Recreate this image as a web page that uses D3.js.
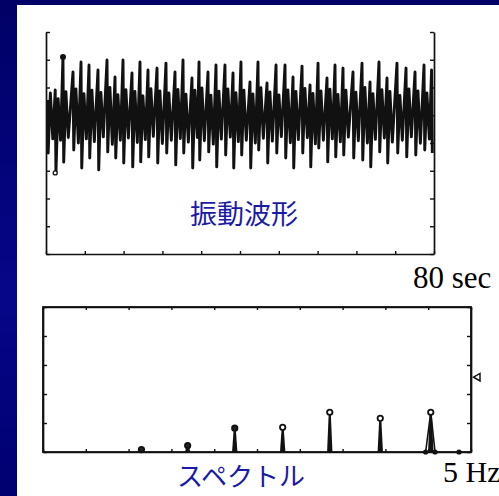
<!DOCTYPE html>
<html>
<head>
<meta charset="utf-8">
<script src="https://cdn.jsdelivr.net/npm/d3@7"></script>
<style>
  html, body { margin: 0; padding: 0; background: #000078; }
  svg { display: block; }
</style>
</head>
<body>
<div id="chart"></div>
<script>
// vibration waveform, one entry per cycle (seconds / amplitude units)
const waveTime = [0.3, 1.9, 3.5, 5.57, 7.22, 8.87, 10.72, 12.58, 14.23, 15.88, 17.73, 19.38, 21.03, 22.89, 24.74, 26.6,
  28.25, 30.1, 31.55, 33.4, 35.05, 36.9, 38.56, 40.2, 42.06, 43.71, 45.57, 47.43, 49.28, 50.93, 52.79,
  54.44, 56.09, 57.94, 59.59, 61.24, 63.3, 65.16, 66.81, 68.66, 70.31, 72.37, 74.23, 76.09, 77.94, 79.5];
const waveHigh = [0.55, 0.91, 2.10, 1.56, 1.92, 1.81, 1.63, 1.99, 1.38, 1.99, 1.52, 1.92, 1.63, 1.70, 1.88, 1.56,
  1.99, 1.34, 1.92, 1.56, 1.81, 1.81, 1.52, 1.92, 1.20, 1.92, 1.16, 1.81, 1.81, 1.38, 1.77,
  1.09, 1.88, 1.34, 1.81, 1.70, 1.56, 1.88, 1.20, 1.92, 1.34, 1.88, 1.70, 1.56, 1.81, 1.63];
const waveLow = [-1.36, -2.08, -1.69, -1.25, -1.90, -1.54, -1.97, -1.32, -1.54, -1.72, -1.86, -1.68, -1.50, -1.72, -1.36, -1.79,
  -1.36, -1.90, -1.61, -1.32, -1.86, -1.43, -1.90, -1.43, -1.90, -1.25, -1.72, -1.36, -1.54, -1.90, -1.36,
  -1.86, -1.18, -1.68, -1.50, -1.43, -1.54, -1.61, -1.86, -1.32, -1.72, -1.36, -1.50, -1.43, -1.25, -1.36];
// the dense middle band between the spikes
const bandHigh = [0.8, 0.6, 0.85, 0.95, 0.78, 0.9, 0.82, 1.0, 0.74, 0.92, 0.86, 0.7, 0.96, 0.88, 0.8, 0.93,
  0.76, 0.9, 0.98, 0.72, 0.87, 0.95, 0.81, 0.9, 0.77, 0.99, 0.84, 0.73, 0.91, 0.86, 0.97,
  0.79, 0.88, 0.94, 0.75, 0.9, 0.83, 1.0, 0.78, 0.92, 0.86, 0.71, 0.95, 0.88, 0.8, 0.9];
const bandLow = [-0.85, -0.9, -0.8, -1.0, -0.85, -0.95, -0.78, -1.05, -0.9, -0.82, -0.98, -0.88, -0.76, -1.02, -0.9, -0.84,
  -0.97, -0.8, -0.92, -1.04, -0.86, -0.79, -0.95, -0.9, -1.0, -0.83, -0.93, -0.77, -0.99, -0.88, -0.81,
  -1.03, -0.9, -0.85, -0.96, -0.79, -0.92, -1.0, -0.87, -0.82, -0.97, -0.9, -0.78, -1.01, -0.86, -0.92];

// spectrum
const specFreq = [1.15, 1.69, 2.24, 2.80, 3.35, 3.94, 4.53];
const specAmp = [0.05, 0.22, 0.82, 0.85, 1.37, 1.16, 1.37];
const baseFreq = [4.47, 4.58, 4.86];
const markFreq = 5.08, markAmp = 2.58;

const labelColor = "#1a1aa6";

const svg = d3.select("#chart").append("svg")
  .attr("width", 499)
  .attr("height", 496);

// slide background
const grad = svg.append("defs").append("linearGradient")
  .attr("id", "bg").attr("x1", 0).attr("y1", 0).attr("x2", 0).attr("y2", 1);
grad.append("stop").attr("offset", "0%").attr("stop-color", "#000066");
grad.append("stop").attr("offset", "60%").attr("stop-color", "#060689");
grad.append("stop").attr("offset", "100%").attr("stop-color", "#000070");
svg.append("rect").attr("width", 499).attr("height", 496).attr("fill", "url(#bg)");
svg.append("rect").attr("x", 17).attr("y", 5).attr("width", 482).attr("height", 491).attr("fill", "#fff");

// ---------- waveform ----------
const x = d3.scaleLinear().domain([0, 80]).range([46, 434]);
const y = d3.scaleLinear().domain([-5, 3]).range([254, 32]);

const pts = [];
waveTime.forEach((t, i) => {
  pts.push([t, waveHigh[i]]);
  pts.push([t + 0.15, waveLow[i]]);
  pts.push([t + 0.6, bandHigh[i]]);
  pts.push([t + 1.1, bandLow[i]]);
});

const line = d3.line().x(d => x(d[0])).y(d => y(d[1]));

svg.append("path")
  .datum(pts.filter(d => d[0] <= 80))
  .attr("fill", "none")
  .attr("stroke", "#111")
  .attr("stroke-width", 2.9)
  .attr("stroke-linejoin", "round")
  .attr("d", line);

// max / min markers
const iMax = d3.maxIndex(waveHigh);
const iMin = d3.minIndex(waveLow);
svg.append("circle").attr("cx", x(waveTime[iMax])).attr("cy", y(waveHigh[iMax]))
  .attr("r", 3).attr("fill", "#111");
svg.append("circle").attr("cx", x(waveTime[iMin])).attr("cy", y(waveLow[iMin]))
  .attr("r", 2).attr("fill", "#fff").attr("stroke", "#111").attr("stroke-width", 1.3);

function styleAxis(g) {
  g.selectAll(".domain").attr("stroke", "#111").attr("stroke-width", 1.7);
  g.selectAll(".tick line").attr("stroke", "#111").attr("stroke-width", 1.4);
}

svg.append("g")
  .attr("transform", "translate(46,0)")
  .call(d3.axisLeft(y).ticks(8).tickSize(-4).tickSizeOuter(0).tickFormat(""))
  .call(styleAxis);
svg.append("g")
  .attr("transform", "translate(434,0)")
  .call(d3.axisRight(y).ticks(8).tickSize(-4).tickSizeOuter(0).tickFormat(""))
  .call(styleAxis);
svg.append("g")
  .attr("transform", "translate(0,254)")
  .call(d3.axisBottom(x).tickValues(d3.range(0, 81, 8)).tickSize(-3).tickSizeOuter(0).tickFormat(""))
  .call(styleAxis);

svg.append("text")
  .attr("x", 244).attr("y", 224)
  .attr("text-anchor", "middle")
  .attr("fill", labelColor)
  .style("font-family", "'Noto Sans CJK JP', sans-serif")
  .style("font-size", "27px")
  .text("振動波形");

svg.append("text")
  .attr("x", 413).attr("y", 288)
  .attr("fill", "#000")
  .style("font-family", "'Liberation Serif', 'Times New Roman', serif")
  .style("font-size", "31px")
  .text("80 sec");

// ---------- spectrum ----------
const fx = d3.scaleLinear().domain([0, 5]).range([43, 471]);
const fy = d3.scaleLinear().domain([0, 5]).range([452, 307]);

svg.append("rect")
  .attr("x", fx(0)).attr("y", fy(5))
  .attr("width", fx(5) - fx(0)).attr("height", fy(0) - fy(5))
  .attr("fill", "none").attr("stroke", "#111").attr("stroke-width", 1.8);

const fTicks = d3.range(0, 5.01, 0.5);
const aTicks = d3.range(0, 6, 1);
svg.append("g").attr("transform", `translate(${fx(0)},0)`)
  .call(d3.axisLeft(fy).tickValues(aTicks).tickSize(-4).tickSizeOuter(0).tickFormat(""))
  .call(styleAxis);
svg.append("g").attr("transform", `translate(${fx(5)},0)`)
  .call(d3.axisRight(fy).tickValues(aTicks).tickSize(-4).tickSizeOuter(0).tickFormat(""))
  .call(styleAxis);
svg.append("g").attr("transform", `translate(0,${fy(5)})`)
  .call(d3.axisTop(fx).tickValues(fTicks).tickSize(-3).tickSizeOuter(0).tickFormat(""))
  .call(styleAxis);
svg.append("g").attr("transform", `translate(0,${fy(0)})`)
  .call(d3.axisBottom(fx).tickValues(fTicks).tickSize(-3).tickSizeOuter(0).tickFormat(""))
  .call(styleAxis);

const spec = specFreq.map((f, i) => ({ f, a: specAmp[i] }));

// stems drawn as narrow spikes
svg.append("g")
  .selectAll("path")
  .data(spec.filter(d => d.a > 0.1))
  .join("path")
  .attr("fill", "#111")
  .attr("d", d => {
    const cx = fx(d.f);
    return `M${cx - 2.7},${fy(0)} L${cx - 1},${fy(d.a)} L${cx + 1},${fy(d.a)} L${cx + 2.7},${fy(0)} Z`;
  });

// baseline points joined to the nearby stem
baseFreq.forEach(bf => {
  const near = spec.find(d => Math.abs(d.f - bf) < 0.1);
  if (near) {
    svg.append("line")
      .attr("x1", fx(near.f)).attr("y1", fy(near.a))
      .attr("x2", fx(bf)).attr("y2", fy(0))
      .attr("stroke", "#111").attr("stroke-width", 1.6);
  }
});

svg.append("g")
  .selectAll("circle")
  .data(spec)
  .join("circle")
  .attr("cx", d => fx(d.f))
  .attr("cy", d => fy(d.a) - (d.a > 0.1 ? 0 : 1))
  .attr("r", 2.7)
  .attr("fill", d => d.a < 0.84 ? "#222" : "#fff")
  .attr("stroke", "#111")
  .attr("stroke-width", 1.8);

svg.append("g")
  .selectAll("circle")
  .data(baseFreq)
  .join("circle")
  .attr("cx", d => fx(d))
  .attr("cy", fy(0))
  .attr("r", 2.6)
  .attr("fill", "#111");

svg.append("path")
  .attr("d", d3.symbol(d3.symbolTriangle, 24)())
  .attr("transform", `translate(${fx(markFreq)},${fy(markAmp)}) rotate(-90)`)
  .attr("fill", "#fff")
  .attr("stroke", "#111")
  .attr("stroke-width", 1.5);

svg.append("text")
  .attr("x", 241).attr("y", 486)
  .attr("text-anchor", "middle")
  .attr("fill", labelColor)
  .style("font-family", "'Noto Sans CJK JP', sans-serif")
  .style("font-size", "26px")
  .text("スペクトル");

svg.append("text")
  .attr("x", 443).attr("y", 482)
  .attr("fill", "#000")
  .style("font-family", "'Liberation Serif', 'Times New Roman', serif")
  .style("font-size", "30px")
  .text("5 Hz");
</script>
</body>
</html>
